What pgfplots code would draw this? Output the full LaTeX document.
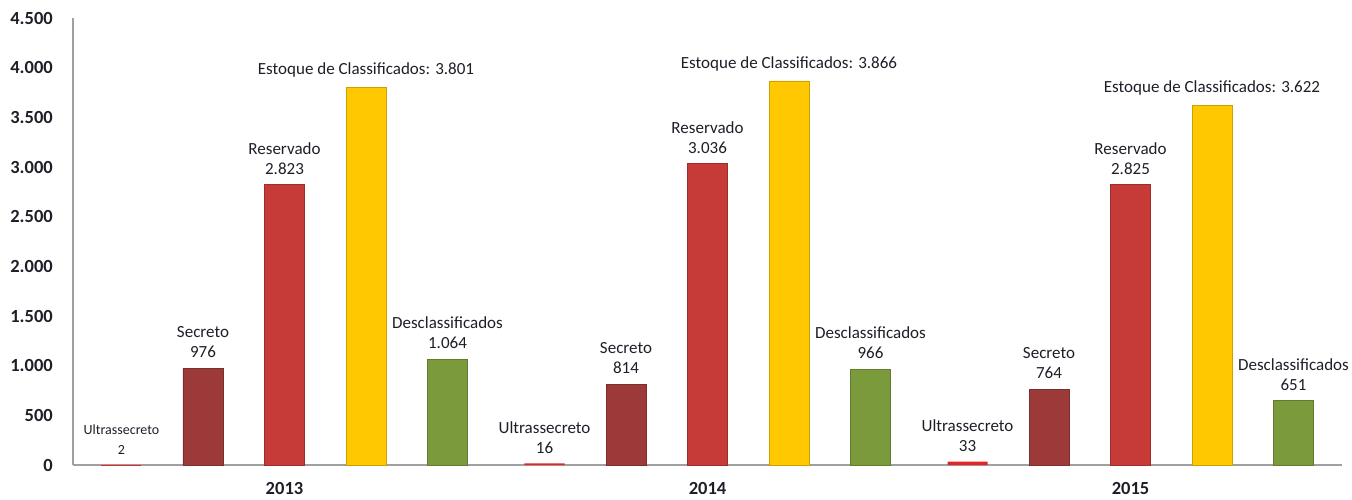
\documentclass[border=0pt]{standalone}
\usepackage{pgfplots}
\pgfplotsset{compat=1.18}
\usepackage{fontspec}
\setmainfont{Carlito}
\definecolor{cUltra}{RGB}{226,38,40}
\definecolor{cSec}{RGB}{155,58,57}
\definecolor{cRes}{RGB}{198,58,55}
\definecolor{cEst}{RGB}{255,200,0}
\definecolor{cDes}{RGB}{122,154,60}
\definecolor{txt}{RGB}{30,30,40}
\definecolor{axl}{RGB}{160,160,160}
\begin{document}
\begin{tikzpicture}
\begin{axis}[
  scale only axis, width=1269pt, height=447pt,
  xmin=-0.5, xmax=2.5, ymin=0, ymax=4500,
  axis x line*=bottom, axis y line*=left,
  axis line style={axl, line width=1.2pt, -},
  xtick={0,1,2}, xticklabels={2013,2014,2015},
  ytick={0,500,...,4500},
  major tick length=0pt,
  tick label style={font=\fontsize{18.5}{20}\selectfont\bfseries, text=txt},
  /pgf/number format/assume math mode=true,
  /pgf/number format/1000 sep={.},
  yticklabel style={inner sep=0pt, xshift=-20pt},
  xticklabel style={inner sep=0pt, yshift=-17pt},
  ybar, bar width=40pt, clip=false,
  every node near coord/.append style={align=center, text=txt, anchor=south,
    inner sep=0pt, yshift=10pt, font=\fontsize{17}{20}\selectfont},
]
\coordinate (A) at (rel axis cs:0,0);
\coordinate (B) at (rel axis cs:1,1);
% Ultrassecreto 2013 (smaller label)
\addplot[fill=cUltra, draw=none, bar shift=-163pt,
  nodes near coords={Ultrassecreto\\\pgfmathprintnumber{\pgfplotspointmeta}},
  every node near coord/.append style={font=\fontsize{14}{20}\selectfont}]
  coordinates {(0,2)};
% Ultrassecreto 2014, 2015
\addplot[fill=cUltra, draw=none, bar shift=-163pt,
  nodes near coords={Ultrassecreto\\\pgfmathprintnumber{\pgfplotspointmeta}}]
  coordinates {(1,16) (2,33)};
% Secreto
\addplot[fill=cSec, draw=cSec!80!black, bar shift=-81.5pt,
  nodes near coords={Secreto\\\pgfmathprintnumber{\pgfplotspointmeta}}]
  coordinates {(0,976) (1,814) (2,764)};
% Reservado
\addplot[fill=cRes, draw=cRes!80!black, bar shift=0pt,
  nodes near coords={Reservado\\\pgfmathprintnumber{\pgfplotspointmeta}}]
  coordinates {(0,2823) (1,3036) (2,2825)};
% Estoque
\addplot[fill=cEst, draw=cEst!80!black, bar shift=81.5pt,
  nodes near coords={Estoque de Classificados: \pgfmathprintnumber{\pgfplotspointmeta}}]
  coordinates {(0,3801) (1,3866) (2,3622)};
% Desclassificados
\addplot[fill=cDes, draw=cDes!80!black, bar shift=163pt,
  nodes near coords={Desclassificados\\\pgfmathprintnumber{\pgfplotspointmeta}}]
  coordinates {(0,1064) (1,966) (2,651)};
\end{axis}
\pgfresetboundingbox
\path ([shift={(-73pt,-34pt)}]A) rectangle ([shift={(10pt,18pt)}]B);
\end{tikzpicture}
\end{document}
